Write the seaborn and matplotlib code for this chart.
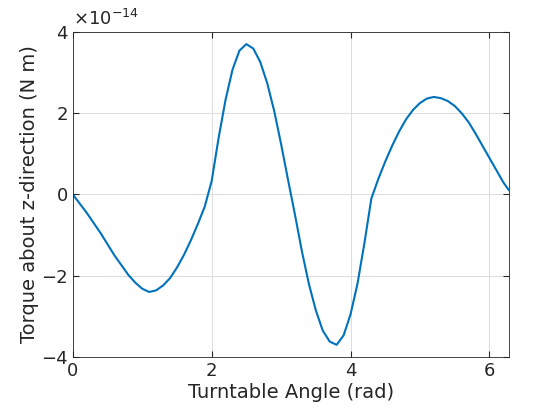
import numpy as np
import matplotlib
matplotlib.use("Agg")
import matplotlib.pyplot as plt
import seaborn as sns

# values, torque in units of 1e-14 N m
angle = [0.0, 0.2, 0.4, 0.6, 0.8, 0.9, 1.0, 1.1, 1.2, 1.3, 1.4, 1.5, 1.6, 1.7,
         1.8, 1.9, 2.0, 2.1, 2.2, 2.3, 2.4, 2.5, 2.6, 2.7, 2.8, 2.9, 3.0, 3.1,
         3.2, 3.3, 3.4, 3.5, 3.6, 3.7, 3.8, 3.9, 4.0, 4.1, 4.2, 4.3, 4.4, 4.5,
         4.6, 4.7, 4.8, 4.9, 5.0, 5.1, 5.2, 5.3, 5.4, 5.5, 5.6, 5.7, 5.8, 5.9,
         6.0, 6.1, 6.2, 6.283]
torque = [0.0, -0.45, -0.95, -1.5, -1.98, -2.17, -2.32, -2.4, -2.36, -2.24,
          -2.06, -1.8, -1.49, -1.13, -0.73, -0.3, 0.33, 1.39, 2.33, 3.07, 3.54,
          3.7, 3.59, 3.26, 2.74, 2.06, 1.24, 0.36, -0.5, -1.4, -2.2, -2.85,
          -3.35, -3.62, -3.7, -3.47, -2.95, -2.2, -1.2, -0.1, 0.38, 0.81, 1.2,
          1.55, 1.85, 2.08, 2.25, 2.36, 2.4, 2.37, 2.3, 2.18, 2.0, 1.78, 1.5,
          1.2, 0.9, 0.6, 0.3, 0.1]
xticks = [0, 2, 4, 6]
yticks = [-4, -2, 0, 2, 4]

sns.set_style("whitegrid")
plt.rcParams["font.family"] = ["DejaVu Sans"]

fig = plt.figure(figsize=(5.6, 4.2), dpi=100)
ax = fig.add_axes([0.13, 0.15, 0.779, 0.774])
sns.lineplot(x=angle, y=torque, ax=ax, color="#0072BD", linewidth=1.5, sort=False)
ax.set_xlim(0, 2 * np.pi)
ax.set_ylim(-4, 4)
ax.set_xticks(xticks)
ax.set_yticks(yticks)
ax.grid(True, color="#dcdcdc", linewidth=0.7)
for s in ax.spines.values():
    s.set_visible(True)
    s.set_color("#262626")
    s.set_linewidth(0.6)
ax.tick_params(direction="in", length=4, labelsize=13, colors="#262626",
               top=True, right=True, bottom=True, left=True)
ax.set_xlabel("Turntable Angle (rad)", fontsize=14, color="#262626", labelpad=2)
ax.set_ylabel("Torque about z-direction (N m)", fontsize=14, color="#262626", labelpad=2)
ax.text(0.0, 1.01, r"$\times10^{-14}$", transform=ax.transAxes, fontsize=13,
        color="#262626", va="bottom", ha="left")

fig.savefig("out.png", dpi=100, facecolor="white")
